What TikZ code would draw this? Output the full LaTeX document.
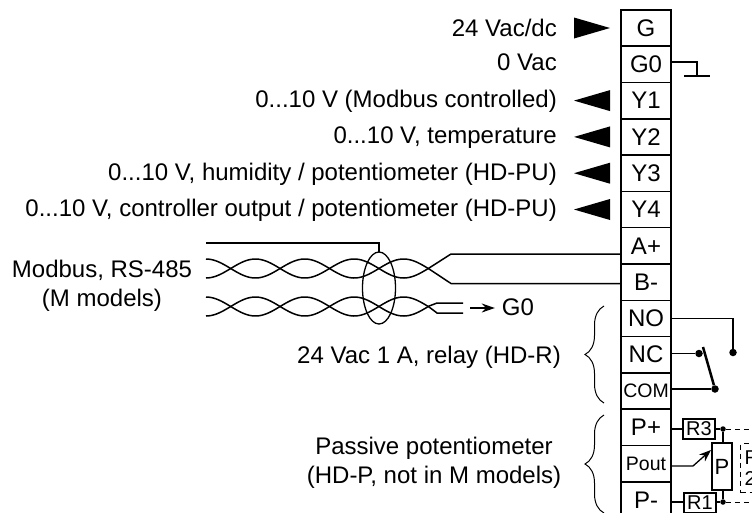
\documentclass[tikz,border=0pt]{standalone}
\usepackage{fontspec}
\setmainfont{Liberation Sans}
\usetikzlibrary{positioning,arrows.meta,decorations.pathreplacing,shapes.geometric}

\begin{document}
\begin{tikzpicture}
            [x=1pt, y=-1pt, font=\fontsize{24}{29}\selectfont,
            terminal/.style={draw=black, line width=1.5pt, minimum width=50pt, minimum height=36.3pt, inner sep=0pt, outer sep=0pt},
            lefttext/.style={anchor=base east, inner sep=0pt},
            wire/.style={draw=black, line width=1.3pt},
            twist/.style={draw=black, line width=1.5pt},
            resistor/.style={draw=black, line width=1.3pt, inner sep=0pt, outer sep=0pt, font=\fontsize{20}{24}\selectfont},
            junction/.style={circle, fill=black, inner sep=0pt, minimum size=7.5pt},
            screenbox/.style={draw=black, line width=1pt, dash pattern=on 5pt off 4pt},
            curlybrace/.style={draw=black, line width=1pt, decorate, decoration={brace, amplitude=19pt}}]
            \useasboundingbox (0,0) rectangle (752,512);
            \clip (0,0) rectangle (752,512);

            % terminal block
            \node [terminal] (G) at (646,28) {G};
            \node [terminal, below=0pt of G] (G0) {G0};
            \node [terminal, below=0pt of G0] (Y1) {Y1};
            \node [terminal, below=0pt of Y1] (Y2) {Y2};
            \node [terminal, below=0pt of Y2] (Y3) {Y3};
            \node [terminal, below=0pt of Y3] (Y4) {Y4};
            \node [terminal, below=0pt of Y4] (Aplus) {A+};
            \node [terminal, below=0pt of Aplus] (Bminus) {B-};
            \node [terminal, below=0pt of Bminus] (NO) {NO};
            \node [terminal, below=0pt of NO] (NC) {NC};
            \node [terminal, below=0pt of NC] (COM) {\fontsize{19.5}{24}\selectfont COM};
            \node [terminal, below=0pt of COM] (Pplus) {P+};
            \node [terminal, below=0pt of Pplus] (Pout) {\fontsize{19.5}{24}\selectfont Pout};
            \node [terminal, below=0pt of Pout] (Pminus) {P-};

            % texts on the left
            \node [lefttext] (supply) at (557,36) {24 Vac/dc};
            \node [lefttext] (zero) at (557,70) {0 Vac};
            \node [lefttext] (modbusout) at (557,107) {0...10 V (Modbus controlled)};
            \node [lefttext] (tempout) at (557,143.5) {0...10 V, temperature};
            \node [lefttext] (humout) at (557,180) {0...10 V, humidity / potentiometer (HD-PU)};
            \node [lefttext] (ctrlout) at (557,216.5) {0...10 V, controller output / potentiometer (HD-PU)};
            \node [align=center, inner sep=0pt] (modbus) at (102,285.5) {Modbus, RS-485\\(M models)};
            \node [lefttext] (relay) at (561,363.5) {24 Vac 1 A, relay (HD-R)};
            \node [align=center, inner sep=0pt] (passive) at (434,462.5) {Passive potentiometer\ \\(HD-P, not in M models)};
            \node [inner sep=0pt] (gzero) at (518,307) {G0};

            % signal direction
            \fill ([xshift=-47pt,yshift=10.5pt]G.west) -- ++(36,10.5) -- ++(-36,10.5) -- cycle;
            \foreach \row in {Y1,Y2,Y3,Y4}
                \fill ([xshift=-47pt]\row.west) -- ++(36,-10.5) -- ++(0,21) -- cycle;

            % ground
            \coordinate (gndtop) at (697,62);
            \coordinate (gndfoot) at (697,76);
            \draw [wire] (G0.east |- gndtop) -- (gndtop) -- (gndfoot);
            \draw [wire] ([xshift=-13pt]gndfoot) -- ([xshift=13pt]gndfoot);

            % twisted pairs
            \coordinate (Atop) at (451,254);
            \coordinate (Bbot) at (451,283.5);
            \coordinate (shieldin) at (206,243);
            \coordinate (shieldout) at (379,243);
            \node [draw=black, line width=1.3pt, ellipse, minimum width=33pt, minimum height=72pt, inner sep=0pt, outer sep=0pt] (shield) at (379,288) {};
            \draw [wire] (shieldin) -- (shieldout) -- (shield.north);
            \draw [twist] plot [domain=206:429, samples=90, smooth] (\x,{268.5+9.5*cos(3.644*(\x-206))}) -- (Atop) -- (Aplus.west |- Atop);
            \draw [twist] plot [domain=206:429, samples=90, smooth] (\x,{268.5-9.5*cos(3.644*(\x-206))}) -- (Bbot) -- (Bminus.west |- Bbot);
            \coordinate (gndwa) at (463,303);
            \coordinate (gndwb) at (463,313);
            \draw [twist] plot [domain=206:429, samples=90, smooth] (\x,{306.5+9.5*cos(3.644*(\x-206))}) -- (437,303) -- (gndwa);
            \draw [twist] plot [domain=206:429, samples=90, smooth] (\x,{306.5-9.5*cos(3.644*(\x-206))}) -- (437,313) -- (gndwb);
            \coordinate (gndarrow) at (470,308);
            \draw [wire, shorten >=7pt, -{Stealth[length=13pt, width=9pt]}] (gndarrow) -- (gzero.west |- gndarrow);

            % relay
            \node [junction] (relayno) at (733,352.5) {};
            \node [junction] (relaync) at (699,353.5) {};
            \node [junction] (relaycom) at (715,389) {};
            \draw [wire] (NO.east) -- (NO.east -| relayno) -- (relayno);
            \draw [wire] (NC.east |- relaync) -- (relaync);
            \draw [wire] (COM.east |- relaycom) -- (relaycom);
            \coordinate (armtip) at (703,347);
            \draw [draw=black, line width=2.5pt] (armtip) -- (relaycom);

            % potentiometer
            \node [resistor, minimum width=32pt, minimum height=20pt] (Rthree) at (699,429) {R3};
            \node [resistor, minimum width=32pt, minimum height=20pt] (Rone) at (700,503) {R1};
            \node [resistor, minimum width=20pt, minimum height=47pt, font=\fontsize{22}{24}\selectfont] (Pot) at (722,466.5) {P};
            \node [junction, minimum size=5.5pt] (topdot) at (723,429) {};
            \node [junction, minimum size=5.5pt] (botdot) at (723,502) {};
            \draw [wire] (Pplus.east |- Rthree) -- (Rthree.west);
            \draw [wire] (Rthree.east) -- (topdot) -- (Pot.north -| topdot);
            \draw [wire] (Pminus.east |- botdot) -- (Rone.west |- botdot);
            \draw [wire] (Rone.east |- botdot) -- (botdot) -- (Pot.south -| botdot);
            \coordinate (wiper) at (693,466);
            \coordinate (wipertip) at (711,450);
            \draw [wire, -{Stealth[length=12pt, width=9pt]}] (Pout.east |- wiper) -- (wiper) -- (wipertip);
            \node [screenbox, anchor=north west, align=left, inner xsep=4pt, inner ysep=0pt, text width=30pt, minimum height=49pt, font=\fontsize{20}{21}\selectfont] (Rtwo) at (740,443) {R\\2};
            \coordinate (dashtop) at (760,429);
            \coordinate (dashbot) at (760,502);
            \draw [screenbox] (topdot) -- (dashtop);
            \draw [screenbox] (botdot) -- (dashbot);

            % braces
            \coordinate (relaytop) at (604,306);
            \coordinate (relaybot) at (604,403);
            \coordinate (pottop) at (604,415);
            \coordinate (potbot) at (604,513);
            \draw [curlybrace] (relaybot) -- (relaytop);
            \draw [curlybrace] (potbot) -- (pottop);
\end{tikzpicture}
\end{document}
